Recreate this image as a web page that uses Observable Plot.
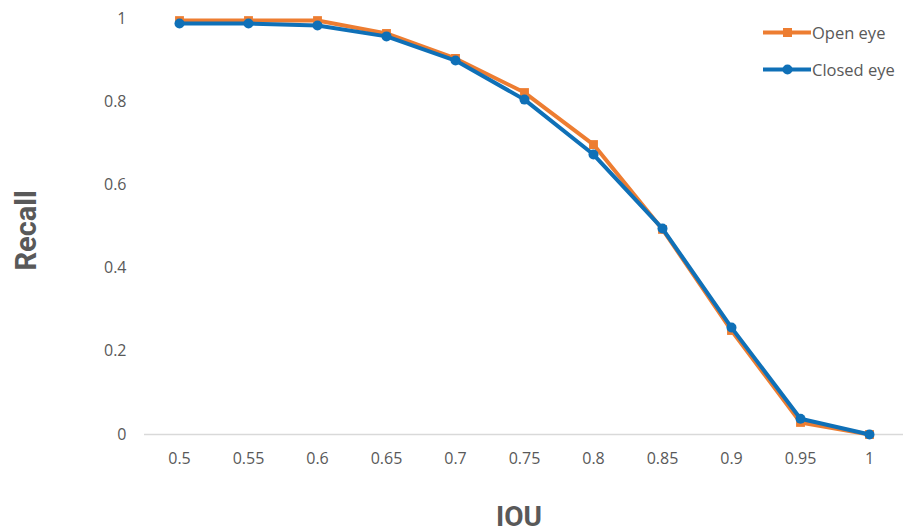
<!DOCTYPE html>
<html>
<head>
<meta charset="utf-8">
<script src="https://cdn.jsdelivr.net/npm/d3@7"></script>
<script src="https://cdn.jsdelivr.net/npm/@observablehq/plot@0.6"></script>
<style>
  html, body { margin: 0; padding: 0; background: #fff; }
  #wrap { position: relative; width: 903px; height: 532px; font-family: "Open Sans", sans-serif; }
  .legend { position: absolute; left: 763px; font-size: 16.5px; color: #595959; display: flex; align-items: center; }
  .legend svg { margin-right: 1px; }
</style>
</head>
<body>
<div id="wrap"></div>
<script>
const iou = ["0.5", "0.55", "0.6", "0.65", "0.7", "0.75", "0.8", "0.85", "0.9", "0.95", "1"];
const openEye = [0.995, 0.995, 0.995, 0.964, 0.904, 0.822, 0.697, 0.493, 0.25, 0.029, 0.0];
const closedEye = [0.988, 0.988, 0.983, 0.957, 0.899, 0.805, 0.673, 0.495, 0.257, 0.038, 0.0];
const yTicks = [0, 0.2, 0.4, 0.6, 0.8, 1];
const seriesNames = ["Open eye", "Closed eye"];
const colors = ["#ED7D31", "#0F70B7"];

const openData = iou.map((x, i) => ({x, y: openEye[i]}));
const closedData = iou.map((x, i) => ({x, y: closedEye[i]}));

const chart = Plot.plot({
  width: 903,
  height: 532,
  marginLeft: 144,
  marginRight: 0,
  marginTop: 18,
  marginBottom: 98,
  style: {fontFamily: '"Open Sans", sans-serif', fontSize: "16px", color: "#595959", background: "#fff"},
  x: {type: "point", domain: iou, padding: 0.5, label: null},
  y: {domain: [0, 1], label: null},
  marks: [
    Plot.ruleY([0], {stroke: "#d9d9d9", strokeWidth: 1.5}),
    Plot.line(openData, {x: "x", y: "y", stroke: colors[0], strokeWidth: 4}),
    Plot.dot(openData, {x: "x", y: "y", symbol: "square", r: 5, fill: colors[0]}),
    Plot.line(closedData, {x: "x", y: "y", stroke: colors[1], strokeWidth: 4}),
    Plot.dot(closedData, {x: "x", y: "y", symbol: "circle", r: 5, fill: colors[1]}),
    Plot.axisY({ticks: yTicks, tickSize: 0, tickPadding: 18, label: null, tickFormat: d => String(d), fontSize: 16}),
    Plot.axisX({tickSize: 0, tickPadding: 18, label: null, fontSize: 16}),
    Plot.text(["Recall"], {frameAnchor: "left", textAnchor: "middle", dx: -118, dy: 4, rotate: -90, fontSize: 29, fontWeight: "bold", fontFamily: "Roboto", fill: "#595959"}),
    Plot.text(["IOU"], {frameAnchor: "bottom", lineAnchor: "middle", dy: 83, dx: -5, fontSize: 28, fontWeight: "bold", fontFamily: "Roboto", fill: "#595959"})
  ]
});

const wrap = document.getElementById("wrap");
wrap.appendChild(chart);

seriesNames.forEach((name, i) => {
  const div = document.createElement("div");
  div.className = "legend";
  div.style.top = (i === 0 ? 21 : 58) + "px";
  const sym = i === 0
    ? `<rect x="20" y="6" width="9" height="9" fill="${colors[i]}"/>`
    : `<circle cx="24.5" cy="10.5" r="5" fill="${colors[i]}"/>`;
  div.innerHTML = `<svg width="48" height="21"><line x1="0" x2="48" y1="10.5" y2="10.5" stroke="${colors[i]}" stroke-width="4"/>${sym}</svg><span>${name}</span>`;
  wrap.appendChild(div);
});
</script>
</body>
</html>
